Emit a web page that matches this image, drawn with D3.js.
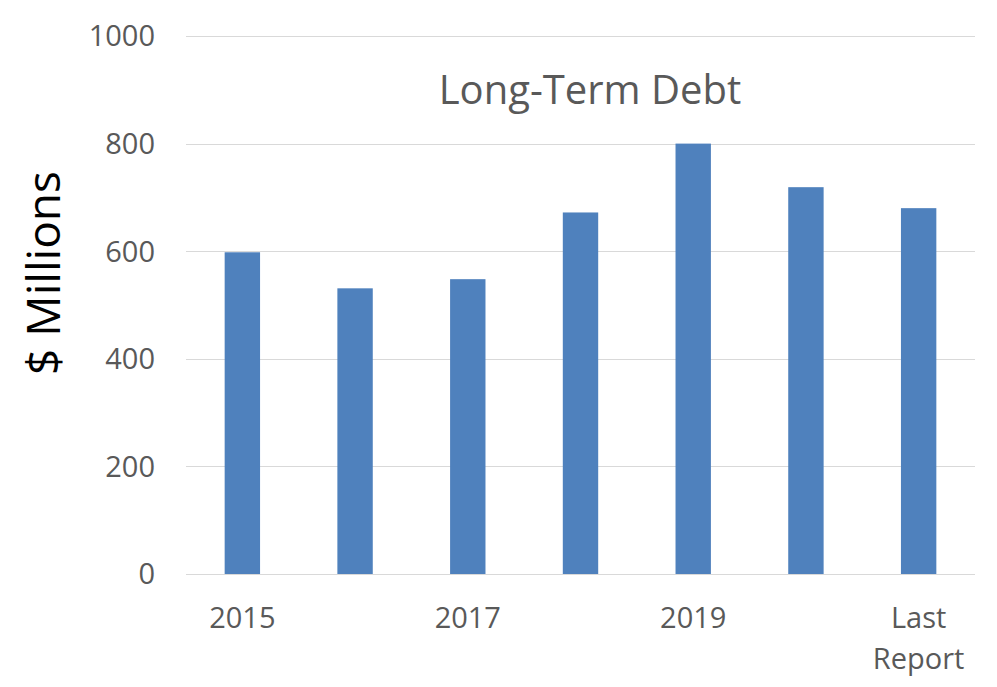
<!DOCTYPE html>
<html><head><meta charset="utf-8">
<script src="https://cdn.jsdelivr.net/npm/d3@7"></script>
<style>body{margin:0;background:#fff}svg{display:block}text{font-family:"Open Sans",sans-serif}</style>
</head><body><svg id="c" width="997" height="687"></svg>
<script>
const categories = ["2015","2016","2017","2018","2019","2020","Last Report"];
const values = [598, 531, 548, 672, 800, 719, 680];
const tickValues = [0, 200, 400, 600, 800, 1000];
const shownLabels = ["2015","2017","2019","Last Report"];
const title = "Long-Term Debt";
const yTitle = "$ Millions";

(function(){
const svg = d3.select("#c");
const mLeft = 186, mRight = 975, mTop = 36, mBottom = 574;
const x = d3.scaleBand().domain(categories).range([mLeft, mRight]).padding(0);
const y = d3.scaleLinear().domain([0, 1000]).range([mBottom, mTop]);
const grey = "#595959";

svg.append("g").selectAll("line").data(tickValues).join("line")
  .attr("x1", mLeft).attr("x2", mRight)
  .attr("y1", d => Math.round(y(d)) + 0.5).attr("y2", d => Math.round(y(d)) + 0.5)
  .attr("stroke", "#d9d9d9").attr("stroke-width", 1);

const bw = x.bandwidth() * 0.314;
svg.append("g").selectAll("rect").data(categories).join("rect")
  .attr("x", d => x(d) + x.bandwidth()/2 - bw/2)
  .attr("width", bw)
  .attr("y", (d,i) => y(values[i]))
  .attr("height", (d,i) => y(0) - y(values[i]))
  .attr("fill", "#4f81bd");

svg.append("g").selectAll("text").data(tickValues).join("text")
  .attr("x", 155).attr("y", d => y(d)).attr("dy", "0.36em")
  .attr("text-anchor", "end").attr("fill", grey).attr("font-size", 29)
  .text(d => d);

const xl = svg.append("g").selectAll("text").data(shownLabels).join("text")
  .attr("text-anchor", "middle").attr("fill", grey).attr("font-size", 29)
  .attr("transform", d => `translate(${x(d) + x.bandwidth()/2},0)`);
xl.each(function(d){
  const words = d.split(" ");
  const t = d3.select(this);
  words.forEach((w, i) => t.append("tspan").attr("x", 0).attr("y", 628 + i*41).text(w));
});

svg.append("text").attr("x", 590).attr("y", 104).attr("text-anchor", "middle")
  .attr("fill", grey).attr("font-size", 40).text(title);

svg.append("text").attr("transform", "translate(60,273) rotate(-90)")
  .attr("text-anchor", "middle").attr("fill", "#000").attr("font-size", 46).text(yTitle);
})();
</script></body></html>
